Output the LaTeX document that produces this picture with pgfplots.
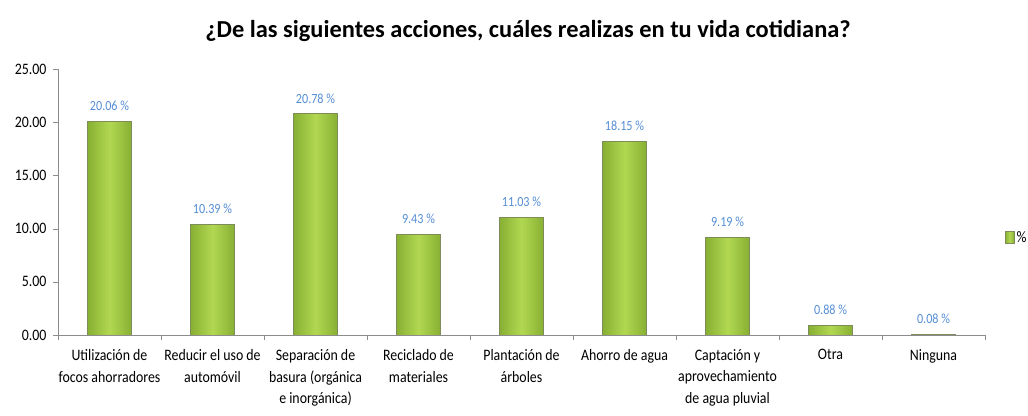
\documentclass[border=0pt]{standalone}
\usepackage{fontspec}
\setmainfont[FakeStretch=0.87]{Carlito}
\newfontfamily\titlefont{Carlito}
\usepackage{pgfplots}
\pgfplotsset{compat=1.18}

\definecolor{barmid}{RGB}{178,216,82}
\definecolor{barside}{RGB}{135,175,50}
\definecolor{baredge}{RGB}{125,140,90}
\definecolor{lblblue}{RGB}{85,142,213}
\definecolor{axgray}{RGB}{140,140,140}

\pgfplotsset{
  mybar/.style={left color=barside, right color=barside, middle color=barmid,
    draw=baredge, line width=0.9bp},
}

\begin{document}
\begin{tikzpicture}
\path[use as bounding box] (0,0) rectangle (1028bp,416bp);
\node[font=\titlefont\fontsize{24.5}{28}\selectfont\bfseries] at (528bp,385bp)
  {¿De las siguientes acciones, cuáles realizas en tu vida cotidiana?};
\begin{axis}[
    at={(58bp,81bp)}, anchor=south west,
    scale only axis,
    width=927bp, height=266bp,
    xmin=-0.5, xmax=8.5,
    ymin=0, ymax=25,
    ytick={0,5,10,15,20,25},
    yticklabel style={font=\fontsize{16}{19}\selectfont, xshift=-3bp,
        /pgf/number format/fixed, /pgf/number format/fixed zerofill,
        /pgf/number format/precision=2, /pgf/number format/assume math mode=true},
    xtick={0,...,8},
    xticklabels={Utilización de\\focos ahorradores, Reducir el uso de\\automóvil, Separación de\\basura (orgánica\\e inorgánica), Reciclado de\\materiales, Plantación de\\árboles, Ahorro de agua, Captación y\\aprovechamiento\\de agua pluvial, Otra, Ninguna},
    xticklabel style={align=center, font=\fontsize{16}{21.5}\selectfont, yshift=-6bp},
    minor xtick={-0.5,0.5,...,8.5},
    major x tick style={draw=none},
    minor tick length=5bp,
    major tick length=5bp,
    tick align=outside,
    tick style={axgray},
    axis x line*=bottom,
    axis y line*=left,
    axis line style={axgray, -},
    ybar, bar width=44bp, bar shift=0pt,
    nodes near coords={\pgfmathprintnumber[fixed,fixed zerofill,precision=2,assume math mode=true]{\pgfplotspointmeta} \%},
    nodes near coords style={font=\fontsize{14}{16}\selectfont, text=lblblue, yshift=7bp},
    legend style={at={(rel axis cs:1.021,0.365)}, anchor=west, draw=none, fill=none,
        font=\fontsize{16}{19}\selectfont, inner sep=0pt},
    legend image code/.code={\fill[left color=barside, right color=barside, middle color=barmid, draw=baredge] (0bp,-6bp) rectangle (9bp,6bp);},
]
\addplot[mybar] coordinates {(0,20.06)};
\addlegendentry{\%}
\addplot[mybar, forget plot] coordinates {(1,10.39)};
\addplot[mybar, forget plot] coordinates {(2,20.78)};
\addplot[mybar, forget plot] coordinates {(3,9.43)};
\addplot[mybar, forget plot] coordinates {(4,11.03)};
\addplot[mybar, forget plot] coordinates {(5,18.15)};
\addplot[mybar, forget plot] coordinates {(6,9.19)};
\addplot[mybar, forget plot] coordinates {(7,0.88)};
\addplot[mybar, forget plot] coordinates {(8,0.08)};
\end{axis}
\end{tikzpicture}
\end{document}
